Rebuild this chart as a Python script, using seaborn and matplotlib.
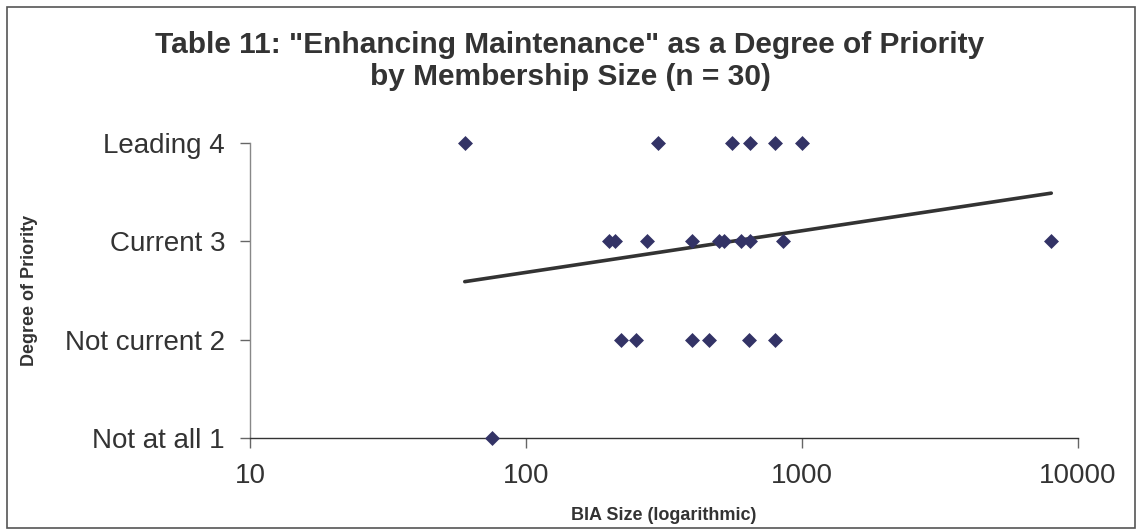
import matplotlib
matplotlib.use("Agg")
import matplotlib.pyplot as plt
import seaborn as sns
import pandas as pd
from matplotlib.patches import Rectangle

# ---- data ----
bia_size = [60, 300, 560, 650, 800, 1000,
            200, 210, 275, 400, 500, 520, 600, 650, 850, 8000,
            220, 250, 400, 460, 640, 800,
            75]
priority = [4, 4, 4, 4, 4, 4,
            3, 3, 3, 3, 3, 3, 3, 3, 3, 3,
            2, 2, 2, 2, 2, 2,
            1]
trend_x = [60, 8000]
trend_y = [2.59, 3.49]

y_ticks = [1, 2, 3, 4]
y_tick_labels = ["Not at all 1", "Not current 2", "Current 3", "Leading 4"]
x_ticks = [10, 100, 1000, 10000]
x_tick_labels = ["10", "100", "1000", "10000"]

title = 'Table 11: "Enhancing Maintenance" as a Degree of Priority\nby Membership Size (n = 30)'
x_label = "BIA Size (logarithmic)"
y_label = "Degree of Priority"

df = pd.DataFrame({"size": bia_size, "priority": priority})
trend = pd.DataFrame({"x": trend_x, "y": trend_y})

sns.set_theme(style="white")
plt.rcParams["font.family"] = ["Liberation Sans", "DejaVu Sans"]

W, H = 1138, 531
fig = plt.figure(figsize=(W / 100, H / 100), dpi=100)
ax = fig.add_axes([250 / W, 1 - 438 / H, (1078 - 250) / W, (438 - 143) / H])

text_col = "#333333"
sns.lineplot(data=trend, x="x", y="y", ax=ax, color="#333333", linewidth=2.6, zorder=2)
sns.scatterplot(data=df, x="size", y="priority", ax=ax, marker="D", s=58,
                color="#333366", edgecolor="#333366", linewidth=0, zorder=3,
                clip_on=False)

ax.set_xscale("log")
ax.set_xlim(10, 10000)
ax.set_ylim(1, 4)
ax.set_xticks(x_ticks)
ax.set_xticklabels(x_tick_labels)
ax.minorticks_off()
ax.set_yticks(y_ticks)
ax.set_yticklabels(y_tick_labels)

for s in ["top", "right"]:
    ax.spines[s].set_visible(False)
ax.spines["bottom"].set_color("#333333")
ax.spines["bottom"].set_linewidth(1.0)
ax.spines["left"].set_color("#888888")
ax.spines["left"].set_linewidth(1.0)

ax.tick_params(axis="both", which="major", direction="out", length=7, width=1,
               bottom=True, left=True, colors="#666666", labelcolor=text_col,
               labelsize=20)
ax.tick_params(axis="x", pad=11)
ax.tick_params(axis="y", pad=11)

ax.set_xlabel(x_label, fontsize=13, fontweight="bold", color=text_col, labelpad=13)
ax.set_ylabel(y_label, fontsize=13, fontweight="bold", color=text_col)
ax.yaxis.set_label_coords(-212 / (1078 - 250), 0.5)

fig.text(570 / W, 1 - 61 / H, title, ha="center", va="center", fontsize=21.5,
         fontweight="bold", color=text_col, linespacing=1.15)

fig.patches.append(Rectangle((7 / W, 3 / H), (1135 - 7) / W, (524 - 3) / H,
                             transform=fig.transFigure, fill=False,
                             edgecolor="#555555", linewidth=1.2))

fig.savefig("out.png", dpi=100)
